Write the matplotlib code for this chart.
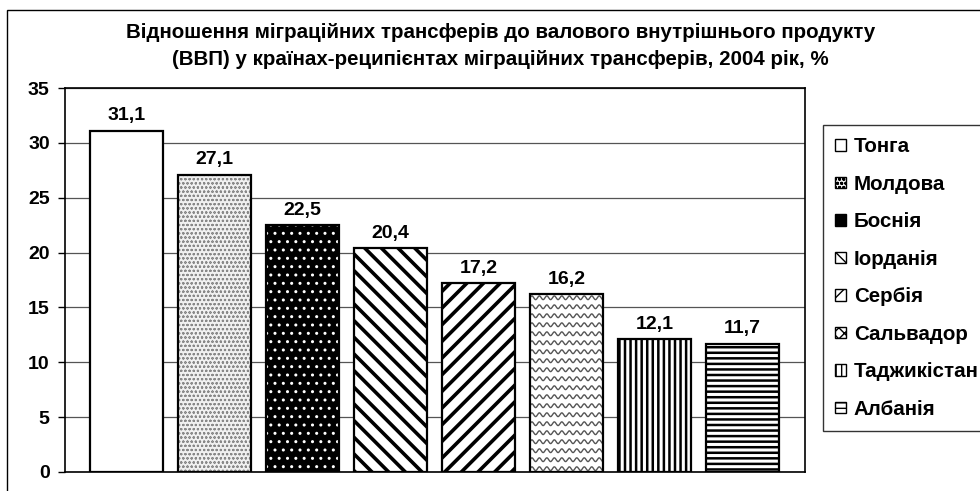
import numpy as np
import matplotlib
matplotlib.use("Agg")
import matplotlib.pyplot as plt
from matplotlib.patches import Patch, Rectangle

plt.rcParams['font.family'] = ['Liberation Sans', 'DejaVu Sans']
plt.rcParams['font.weight'] = 'bold'

countries = ["Тонга", "Молдова", "Боснія", "Іорданія", "Сербія", "Сальвадор", "Таджикістан", "Албанія"]
values = [31.1, 27.1, 22.5, 20.4, 17.2, 16.2, 12.1, 11.7]
labels = ["31,1", "27,1", "22,5", "20,4", "17,2", "16,2", "12,1", "11,7"]
yticks = [0, 5, 10, 15, 20, 25, 30, 35]
title = ("Відношення міграційних трансферів до валового внутрішнього продукту\n"
         "(ВВП) у країнах-реципієнтах міграційних трансферів, 2004 рік, %")

# style per bar: facecolor, hatch, hatch colour, hatch linewidth
styles = [
    ("white", "", "black", 1.0),
    ("#f0f0f0", "oooo", "#888888", 0.5),
    ("black", "..", "white", 1.0),
    ("white", "\\\\", "black", 2.6),
    ("white", "//", "black", 2.6),
    ("white", None, "#555555", 1.0),   # wavy drawn manually
    ("white", "|||", "black", 1.8),
    ("white", "---", "black", 1.8),
]

FS = 14
FS_T = 14.8

fig = plt.figure(figsize=(9.8, 4.91), dpi=100)
ax = fig.add_axes([65/980, 1-472/491, (805-65)/980, (472-88)/491])

x = np.arange(len(values))
width = 0.83
for i, (v, st) in enumerate(zip(values, styles)):
    fc, hatch, hc, hlw = st
    b = ax.bar(x[i], v, width, color=fc, edgecolor=hc, linewidth=0,
               hatch=hatch if hatch else None, zorder=2)[0]
    try:
        b.set_hatch_linewidth(hlw)
    except Exception:
        pass
    if hatch is None:
        # wavy texture clipped to bar
        x0, w = b.get_x(), b.get_width()
        xs = np.linspace(x0, x0 + w, 300)
        step = 0.82
        for yy in np.arange(0.3, v + 0.5, step):
            ys = yy + 0.17 * np.sin(2 * np.pi * (xs - x0) / 0.085)
            ln, = ax.plot(xs, ys, color=hc, lw=1.0, zorder=2.5)
            ln.set_clip_path(b)
    ax.bar(x[i], v, width, fill=False, edgecolor="black", linewidth=1.6, zorder=3)
    ax.text(x[i], v + 0.6, labels[i], ha="center", va="bottom",
            fontsize=FS, fontweight="bold", zorder=4)

ax.set_xlim(-0.7, 7.71)
ax.set_ylim(0, 35)
ax.set_yticks(yticks)
ax.set_yticklabels([str(t) for t in yticks], fontsize=FS, fontweight="bold")
ax.tick_params(axis="y", direction="out", length=5, width=1, pad=6)
ax.set_xticks([])
ax.grid(axis="y", color="#555555", linewidth=0.9, zorder=0)
ax.set_axisbelow(True)
for s in ax.spines.values():
    s.set_linewidth(1.2)
    s.set_color("black")

fig.text(0.511, 1 - 46/491, title, ha="center", va="center", fontsize=FS_T,
         fontweight="bold", linespacing=1.5)

handles = []
for c, st in zip(countries, styles):
    fc, hatch, hc, hlw = st
    if hatch is None:
        hatch = "xxx"
    p = Patch(facecolor=fc, edgecolor="black", hatch=hatch, linewidth=1.0, label=c)
    handles.append(p)
leg = fig.legend(handles=handles, loc="upper left",
                 bbox_to_anchor=(823/980, 1 - 125/491),
                 frameon=True, fancybox=False, shadow=False,
                 prop={"weight": "bold", "size": FS_T},
                 handlelength=0.5, handleheight=0.5, handletextpad=0.4,
                 labelspacing=0.9, borderpad=0.6, borderaxespad=0)
leg.get_frame().set_edgecolor("black")
leg.get_frame().set_linewidth(1.0)

# outer chart frame
fig.patches.append(Rectangle((7/980, -0.05), 1.2, 1 - 10/491 + 0.05,
                             transform=fig.transFigure, fill=False,
                             edgecolor="black", linewidth=1.0, zorder=0))

fig.savefig("out.png", dpi=100)
